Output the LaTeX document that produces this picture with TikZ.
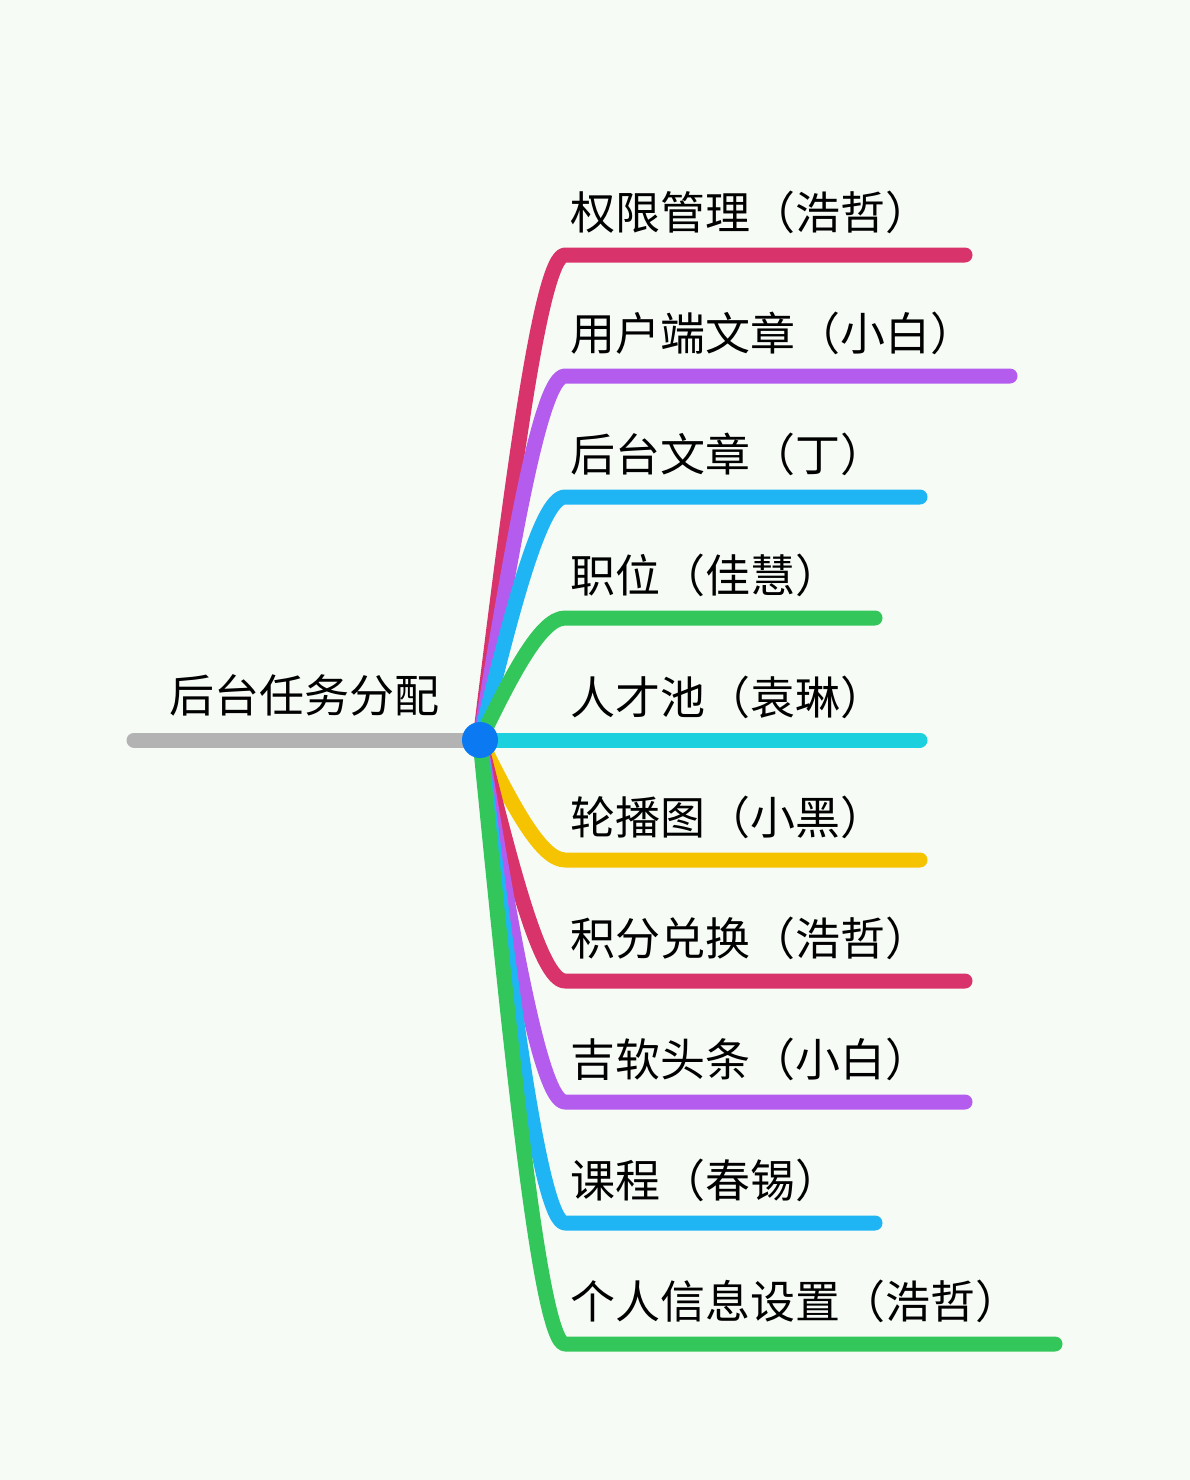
\documentclass[tikz,border=0pt]{standalone}
\usepackage{fontspec}
\newfontfamily\cjk{Noto Sans CJK SC}
\usetikzlibrary{calc}
\definecolor{bgc}{HTML}{F6FBF6}
\definecolor{cred}{HTML}{D8336A}
\definecolor{cpurple}{HTML}{B45CEE}
\definecolor{csky}{HTML}{1FB5F5}
\definecolor{cgreen}{HTML}{33C65A}
\definecolor{ccyan}{HTML}{1CD0DE}
\definecolor{cyellow}{HTML}{F5C300}
\definecolor{cgray}{HTML}{B3B3B3}
\definecolor{cdot}{HTML}{0A79F2}
\tikzset{
  branch/.style={line width=15pt, line cap=round, line join=round},
  lbl/.style={anchor=base west, inner sep=0pt, font=\cjk\fontsize{45}{52}\selectfont, text=black},
  rootlbl/.style={anchor=base west, inner sep=0pt, font=\cjk\fontsize{45}{52}\selectfont, text=black},
}
\begin{document}
\begin{tikzpicture}[x=1pt,y=-1pt]
\fill[bgc] (0,0) rectangle (1190,1480);
\useasboundingbox (0,0) rectangle (1190,1480);
\coordinate (c) at (480,740);
\coordinate (gl) at (134,740);
\draw[branch, cgray] (gl) -- (c);
\node[rootlbl] (root) at (169,712) {后台任务分配};
\foreach \y/\xe/\col/\txt [count=\i] in {
  255/965/cred/权限管理（浩哲）,
  376/1010/cpurple/用户端文章（小白）,
  497/920/csky/后台文章（丁）,
  618/875/cgreen/职位（佳慧）,
  740/920/ccyan/人才池（袁琳）,
  860/920/cyellow/轮播图（小黑）,
  981/965/cred/积分兑换（浩哲）,
  1102/965/cpurple/吉软头条（小白）,
  1223/875/csky/课程（春锡）,
  1344/1055/cgreen/个人信息设置（浩哲）}{
  \coordinate (p2\i) at (540,\y);
  \coordinate (s\i) at (565,\y);
  \coordinate (e\i) at (\xe,\y);
  \draw[branch, \col] (c) .. controls ($(c)!0.5!(p2\i)$) and (p2\i) .. (s\i) -- (e\i);
  \node[lbl] (t\i) at (570,\y-26) {\txt};
}
\node[circle, fill=cdot, minimum size=36pt, inner sep=0pt] (dot) at (c) {};
\end{tikzpicture}
\end{document}
